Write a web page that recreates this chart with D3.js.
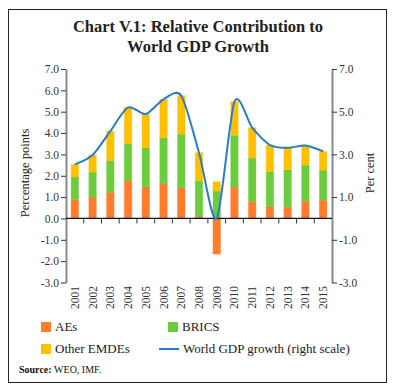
<!DOCTYPE html>
<html>
<head>
<meta charset="utf-8">
<script src="https://cdn.jsdelivr.net/npm/d3@7"></script>
<style>
body { margin: 0; background: #fff; }
text { font-family: 'Liberation Serif', 'DejaVu Serif', serif; }
</style>
</head>
<body>
<div class="chart"></div>
<script>
// Data
const years = ['2001','2002','2003','2004','2005','2006','2007','2008','2009','2010','2011','2012','2013','2014','2015'];
const aes = [0.89, 1.0, 1.22, 1.78, 1.48, 1.64, 1.43, 0.11, -1.67, 1.47, 0.8, 0.54, 0.52, 0.81, 0.86];
const brics = [1.05, 1.17, 1.47, 1.72, 1.83, 2.14, 2.52, 1.65, 1.28, 2.43, 2.03, 1.65, 1.76, 1.69, 1.4];
const otherEmdes = [0.59, 0.8, 1.4, 1.7, 1.58, 1.8, 1.8, 1.32, 0.44, 1.57, 1.42, 1.25, 1.03, 0.92, 0.88];
const worldGdp = [2.53, 2.97, 4.09, 5.2, 4.89, 5.58, 5.75, 3.08, 0.0, 5.47, 4.25, 3.44, 3.31, 3.42, 3.14];
const leftTicks = [-3, -2, -1, 0, 1, 2, 3, 4, 5, 6, 7];
const rightTicks = [-3, -1, 1, 3, 5, 7];
const seriesNames = ['AEs', 'BRICS', 'Other EMDEs', 'World GDP growth (right scale)'];
const colors = ['#ff7c2a', '#6dcc3e', '#ffc000', '#2b7cc7'];

const W = 396, H = 388;
const x0 = 66, x1 = 332, yTop = 69, yBot = 282.5;

const svg = d3.select('.chart').append('svg')
	.attr('width', W).attr('height', H);

// frame
svg.append('rect')
	.attr('x', 8.5).attr('y', 9.5)
	.attr('width', 378).attr('height', 373)
	.attr('fill', 'none').attr('stroke', '#222').attr('stroke-width', 1);

// title
const title = svg.append('text')
	.attr('text-anchor', 'middle')
	.style('font-size', '16.5px')
	.style('font-weight', 'bold')
	.style('fill', '#222');
title.append('tspan').attr('x', 198).attr('y', 32).text('Chart V.1: Relative Contribution to');
title.append('tspan').attr('x', 198).attr('y', 51.5).text('World GDP Growth');

// Scales
const xScale = d3.scaleBand().domain(years).range([x0, x1]);
const yLeft = d3.scaleLinear().domain([-3, 7]).range([yBot, yTop]);
const yRight = d3.scaleLinear().domain([-3, 7]).range([yBot, yTop]);

const fmt = d => d3.format('.1f')(d).replace('\u2212', '-');

// Stack (positive and negative parts handled separately)
const rows = years.map((y, i) => ({year: y, aes: aes[i], brics: brics[i], other: otherEmdes[i]}));
const stack = d3.stack().keys(['aes', 'brics', 'other']).offset(d3.stackOffsetDiverging);
const stacked = stack(rows);

const barW = 7.5;
svg.append('g').selectAll('g')
	.data(stacked)
	.join('g')
	.attr('fill', (d, i) => colors[i])
	.attr('stroke', (d, i) => colors[i])
	.attr('stroke-opacity', 0.35)
	.attr('stroke-width', 1)
	.selectAll('rect')
	.data(d => d)
	.join('rect')
	.attr('x', d => xScale(d.data.year) + xScale.bandwidth() / 2 - barW / 2)
	.attr('width', barW)
	.attr('y', d => yLeft(Math.max(d[0], d[1])))
	.attr('height', d => Math.abs(yLeft(d[0]) - yLeft(d[1])));

// Left axis
const leftAxis = svg.append('g')
	.attr('transform', `translate(${x0},0)`)
	.call(d3.axisLeft(yLeft).tickValues(leftTicks).tickFormat(fmt).tickSize(5).tickSizeOuter(0));
leftAxis.select('.domain').attr('stroke', '#888').attr('stroke-width', 2);
leftAxis.selectAll('.tick line').attr('stroke', '#333');
leftAxis.selectAll('.tick text').style('font-size', '11.5px').style('fill', '#333').attr('x', -7);

// Right axis
const rightAxis = svg.append('g')
	.attr('transform', `translate(${x1},0)`)
	.call(d3.axisRight(yRight).tickValues(rightTicks).tickFormat(fmt).tickSize(5).tickSizeOuter(0));
rightAxis.select('.domain').attr('stroke', '#888').attr('stroke-width', 2);
rightAxis.selectAll('.tick line').attr('stroke', '#333');
rightAxis.selectAll('.tick text').style('font-size', '11.5px').style('fill', '#333').attr('x', 7);

// X axis at zero with boundary ticks
const xAxisG = svg.append('g').attr('transform', `translate(0,${yLeft(0)})`);
xAxisG.append('line').attr('x1', x0).attr('x2', x1).attr('stroke', '#111').attr('stroke-width', 1.2);
xAxisG.selectAll('.xtick')
	.data(years.slice(1))
	.join('line')
	.attr('class', 'xtick')
	.attr('x1', d => xScale(d)).attr('x2', d => xScale(d))
	.attr('y1', 0).attr('y2', 5)
	.attr('stroke', '#333');

// year labels along bottom
svg.append('g').selectAll('text')
	.data(years)
	.join('text')
	.attr('transform', d => `translate(${xScale(d) + xScale.bandwidth() / 2 + 4},286) rotate(-90)`)
	.attr('text-anchor', 'end')
	.style('font-size', '11.5px')
	.style('fill', '#333')
	.text(d => d);

// World GDP line
const line = d3.line()
	.x((d, i) => xScale(years[i]) + xScale.bandwidth() / 2)
	.y(d => yRight(d))
	.curve(d3.curveCardinal.tension(0.2));
svg.append('path')
	.datum(worldGdp)
	.attr('d', line)
	.attr('fill', 'none')
	.attr('stroke', colors[3])
	.attr('stroke-width', 2);

// axis titles
svg.append('text')
	.attr('transform', `translate(29,173) rotate(-90)`)
	.attr('text-anchor', 'middle')
	.style('font-size', '12.5px').style('fill', '#222')
	.text('Percentage points');
svg.append('text')
	.attr('transform', `translate(374,173) rotate(-90)`)
	.attr('text-anchor', 'middle')
	.style('font-size', '12.5px').style('fill', '#222')
	.text('Per cent');

// Legend
const legendItems = [
	{name: seriesNames[0], x: 41, y: 327, c: colors[0], type: 'rect'},
	{name: seriesNames[1], x: 168, y: 327, c: colors[1], type: 'rect'},
	{name: seriesNames[2], x: 41, y: 349, c: colors[2], type: 'rect'},
	{name: seriesNames[3], x: 159, y: 349, c: colors[3], type: 'line'}
];
const legend = svg.append('g').selectAll('g').data(legendItems).join('g');
legend.filter(d => d.type === 'rect').append('rect')
	.attr('x', d => d.x).attr('y', d => d.y - 5)
	.attr('width', 10).attr('height', 10)
	.attr('fill', d => d.c);
legend.filter(d => d.type === 'line').append('line')
	.attr('x1', d => d.x).attr('x2', d => d.x + 20)
	.attr('y1', d => d.y).attr('y2', d => d.y)
	.attr('stroke', d => d.c).attr('stroke-width', 2);
legend.append('text')
	.attr('x', d => d.type === 'rect' ? d.x + 14 : d.x + 24)
	.attr('y', d => d.y + 4)
	.style('font-size', '13px').style('fill', '#222')
	.text(d => d.name);

// Source
const src = svg.append('text').attr('x', 19).attr('y', 373)
	.style('font-size', '10px').style('fill', '#111');
src.append('tspan').style('font-weight', 'bold').text('Source: ');
src.append('tspan').text('WEO, IMF.');
</script>
</body>
</html>
